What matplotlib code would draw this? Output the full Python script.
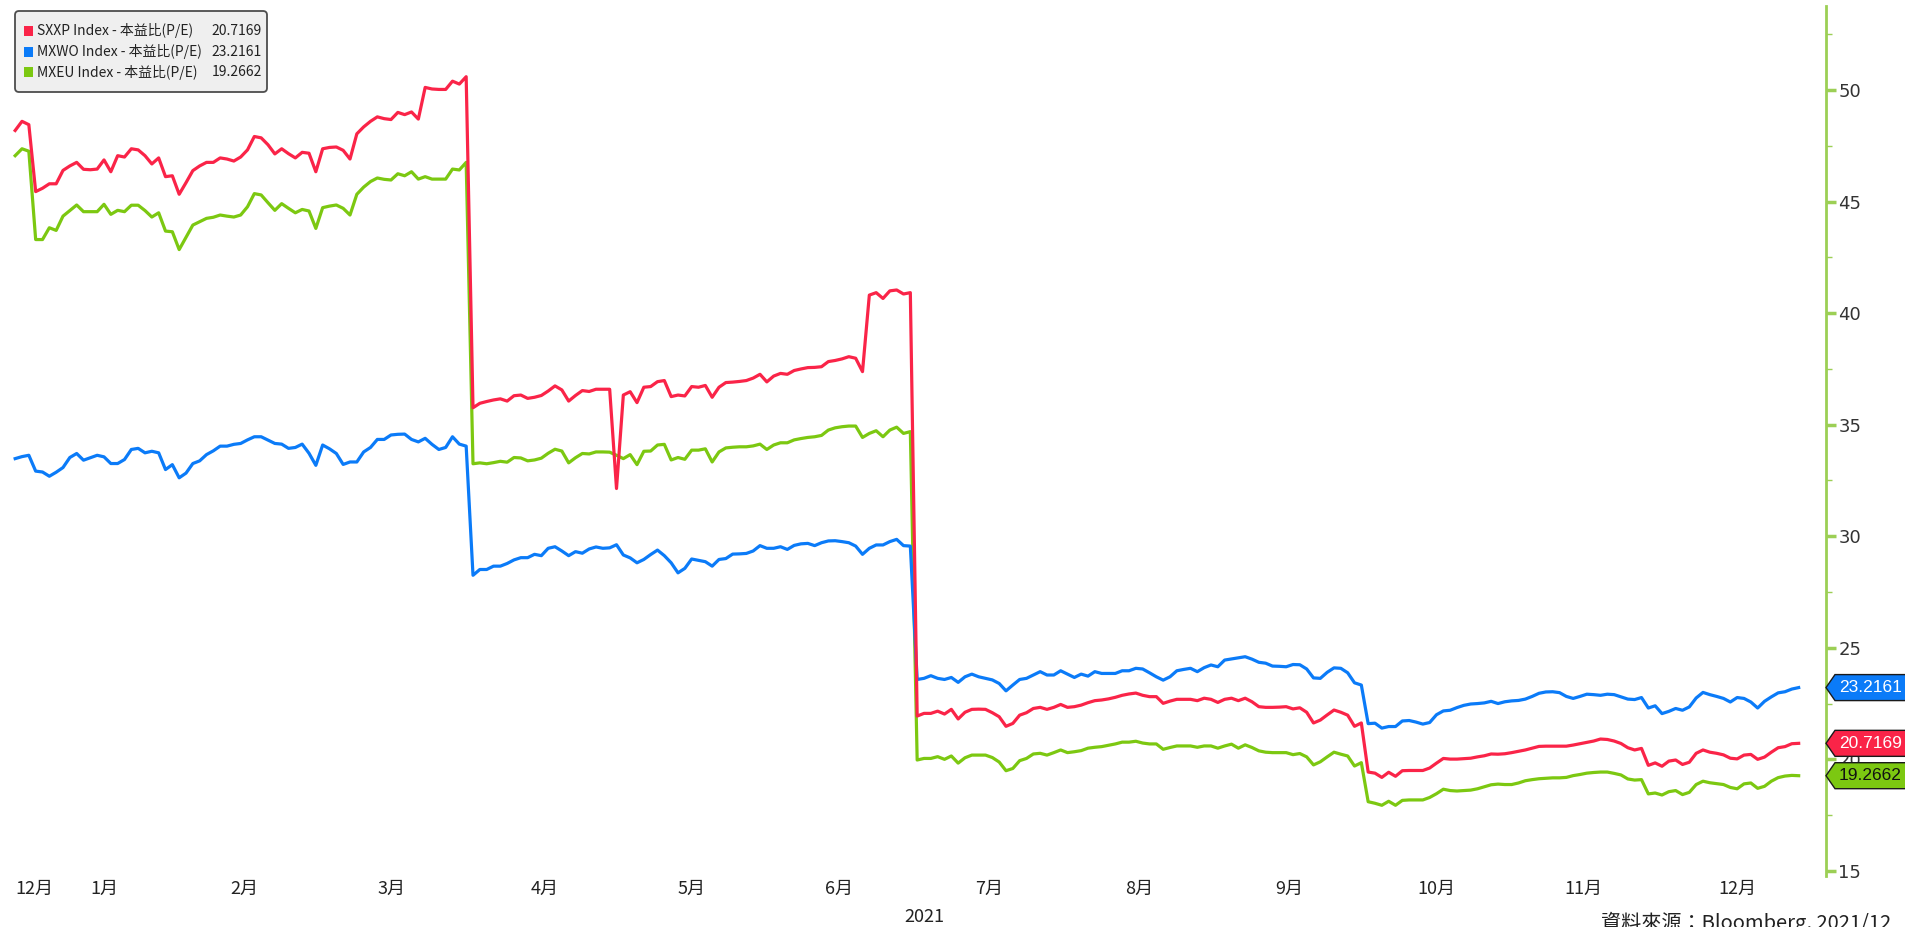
import numpy as np
import pandas as pd
import matplotlib
matplotlib.use('Agg')
import matplotlib.pyplot as plt
from matplotlib.patches import Polygon, FancyBboxPatch
from matplotlib.transforms import IdentityTransform, blended_transform_factory

plt.rcParams['font.family'] = ['DejaVu Sans', 'Noto Sans CJK TC']

# Trading days (weekdays) shown on the chart
dates = pd.bdate_range('2020-12-29', '2021-12-29')

# Forward P/E per trading day, one list per index
sxxp_pe = [
    48.19, 48.6, 48.45,
    45.45, 45.6, 45.8, 45.8, 46.4, 46.6, 46.76, 46.45, 46.43, 46.46, 46.87,
    46.34, 47.06, 47.0, 47.37, 47.32, 47.06, 46.69, 46.96, 46.12, 46.16,
    45.33, 45.85, 46.39, 46.6, 46.76, 46.76, 46.96, 46.91, 46.82, 47.0,
    47.32, 47.92, 47.86, 47.55, 47.14, 47.37, 47.15, 46.96, 47.21, 47.17,
    46.34, 47.37, 47.43, 47.45, 47.3, 46.91, 48.04, 48.35, 48.6, 48.8,
    48.72, 48.68, 49.0, 48.9, 49.02, 48.7, 50.12, 50.05, 50.03, 50.03,
    50.4, 50.27, 50.6,
    35.76, 35.96, 36.04, 36.11, 36.16, 36.06, 36.3, 36.33, 36.18, 36.23,
    36.31, 36.51, 36.74, 36.56, 36.06, 36.31, 36.53, 36.49, 36.59, 36.59,
    36.59, 32.14, 36.33, 36.48, 35.99, 36.68, 36.71, 36.93, 36.98, 36.26,
    36.33, 36.29, 36.71, 36.68, 36.76, 36.23, 36.68, 36.89, 36.91, 36.94,
    36.98, 37.09, 37.26, 36.92, 37.18, 37.3, 37.26, 37.43, 37.5, 37.56,
    37.57, 37.6, 37.83, 37.88, 37.95, 38.05, 37.98, 37.38, 40.81, 40.92,
    40.66, 41.0, 41.04, 40.86, 40.92,
    21.94, 22.06, 22.06, 22.16, 22.03, 22.24, 21.81, 22.11, 22.24, 22.25,
    22.24, 22.09, 21.91, 21.48, 21.61, 21.98, 22.09, 22.28, 22.33, 22.24,
    22.33, 22.46, 22.33, 22.36, 22.43, 22.54, 22.63, 22.66, 22.71, 22.78,
    22.87, 22.93, 22.97, 22.87, 22.81, 22.81, 22.51, 22.61, 22.69, 22.69,
    22.69, 22.63, 22.74, 22.69, 22.55, 22.69, 22.74, 22.63, 22.74, 22.58,
    22.36, 22.33, 22.33, 22.34, 22.36, 22.26, 22.31, 22.11, 21.63, 21.76,
    21.99, 22.21, 22.11, 21.98, 21.48, 21.63,
    19.43, 19.38, 19.19, 19.42, 19.24, 19.49, 19.5, 19.5, 19.5, 19.61,
    19.83, 20.04, 20.01, 20.01, 20.03, 20.05, 20.11, 20.16, 20.24, 20.23,
    20.25, 20.3, 20.36, 20.42, 20.5, 20.58, 20.59, 20.59, 20.59, 20.59,
    20.64, 20.7, 20.76, 20.82, 20.91, 20.89, 20.82, 20.71, 20.52, 20.42,
    20.49, 19.73, 19.84, 19.69, 19.92, 19.97, 19.77, 19.87, 20.27, 20.42,
    20.32, 20.27, 20.2, 20.05, 20.02, 20.19, 20.22, 20.0, 20.1, 20.32,
    20.52, 20.57, 20.7, 20.7169,
]

mxwo_pe = [
    33.48, 33.57, 33.63,
    32.92, 32.88, 32.69, 32.87, 33.08, 33.53, 33.71, 33.41, 33.52, 33.63, 33.56,
    33.26, 33.26, 33.44, 33.89, 33.94, 33.74, 33.81, 33.74, 32.99, 33.21,
    32.62, 32.83, 33.26, 33.38, 33.66, 33.83, 34.04, 34.04, 34.12, 34.16,
    34.32, 34.46, 34.46, 34.31, 34.16, 34.13, 33.94, 33.98, 34.13, 33.72,
    33.18, 34.09, 33.92, 33.71, 33.22, 33.33, 33.33, 33.78, 33.98, 34.34,
    34.34, 34.54, 34.57, 34.58, 34.34, 34.23, 34.39, 34.12, 33.89, 33.98,
    34.46, 34.13, 34.04,
    28.25, 28.51, 28.51, 28.66, 28.66, 28.78, 28.94, 29.04, 29.04, 29.19,
    29.13, 29.46, 29.53, 29.34, 29.13, 29.31, 29.24, 29.43, 29.52, 29.46,
    29.48, 29.62, 29.16, 29.03, 28.81, 28.96, 29.18, 29.38, 29.13, 28.81,
    28.36, 28.56, 28.98, 28.92, 28.86, 28.66, 28.96, 29.0, 29.2, 29.21,
    29.23, 29.34, 29.58, 29.46, 29.46, 29.53, 29.41, 29.59, 29.66, 29.68,
    29.58, 29.71, 29.79, 29.8, 29.76, 29.71, 29.56, 29.19, 29.46, 29.61,
    29.61, 29.76, 29.86, 29.58, 29.56,
    23.58, 23.63, 23.75, 23.63, 23.58, 23.67, 23.45, 23.7, 23.82, 23.7,
    23.63, 23.56, 23.4, 23.07, 23.33, 23.58, 23.63, 23.78, 23.93, 23.78,
    23.78, 23.97, 23.82, 23.67, 23.82, 23.73, 23.93, 23.85, 23.85, 23.85,
    23.97, 23.97, 24.08, 24.05, 23.88, 23.7, 23.55, 23.7, 23.97, 24.03,
    24.08, 23.93, 24.11, 24.23, 24.15, 24.45, 24.5, 24.55, 24.6, 24.49,
    24.35, 24.31, 24.18, 24.17, 24.15, 24.25, 24.24, 24.05, 23.65, 23.63,
    23.9, 24.1, 24.08, 23.88, 23.43, 23.33,
    21.6, 21.62, 21.4, 21.47, 21.47, 21.72, 21.74, 21.67, 21.58, 21.65,
    22.0, 22.17, 22.2, 22.32, 22.42, 22.48, 22.5, 22.53, 22.6, 22.5,
    22.58, 22.62, 22.64, 22.7, 22.82, 22.96, 23.02, 23.03, 22.99, 22.82,
    22.73, 22.82, 22.92, 22.9, 22.87, 22.92, 22.9, 22.8, 22.7, 22.68,
    22.77, 22.3, 22.4, 22.05, 22.15, 22.28, 22.2, 22.35, 22.75, 23.0,
    22.9, 22.82, 22.73, 22.57, 22.77, 22.73, 22.57, 22.3, 22.6, 22.8,
    22.98, 23.03, 23.15, 23.2161,
]

mxeu_pe = [
    47.06, 47.37, 47.26,
    43.3, 43.3, 43.83, 43.71, 44.35, 44.6, 44.85, 44.55, 44.55, 44.55, 44.88,
    44.43, 44.61, 44.55, 44.84, 44.84, 44.6, 44.31, 44.5, 43.68, 43.65,
    42.85, 43.4, 43.95, 44.1, 44.25, 44.3, 44.4, 44.35, 44.31, 44.4,
    44.77, 45.36, 45.3, 44.95, 44.61, 44.91, 44.7, 44.5, 44.65, 44.58,
    43.8, 44.73, 44.8, 44.85, 44.7, 44.4, 45.33, 45.65, 45.9, 46.06,
    46.0, 45.97, 46.25, 46.16, 46.34, 46.01, 46.12, 46.01, 46.01, 46.01,
    46.46, 46.42, 46.76,
    33.25, 33.29, 33.25, 33.3, 33.36, 33.32, 33.53, 33.51, 33.38, 33.42,
    33.5, 33.72, 33.9, 33.82, 33.29, 33.52, 33.71, 33.69, 33.78, 33.78,
    33.77, 33.63, 33.48, 33.66, 33.21, 33.81, 33.82, 34.09, 34.12, 33.42,
    33.53, 33.45, 33.86, 33.86, 33.92, 33.33, 33.78, 33.96, 33.99, 34.01,
    34.01, 34.05, 34.13, 33.89, 34.09, 34.19, 34.19, 34.32, 34.38, 34.43,
    34.46, 34.52, 34.76, 34.86, 34.91, 34.94, 34.94, 34.43, 34.61, 34.73,
    34.46, 34.76, 34.89, 34.61, 34.69,
    19.97, 20.04, 20.04, 20.12, 20.0, 20.15, 19.83, 20.07, 20.19, 20.19,
    20.19, 20.08, 19.88, 19.49, 19.59, 19.94, 20.04, 20.24, 20.27, 20.19,
    20.3, 20.42, 20.3, 20.34, 20.39, 20.5, 20.54, 20.57, 20.63, 20.69,
    20.77, 20.77, 20.81, 20.73, 20.69, 20.69, 20.45, 20.53, 20.6, 20.6,
    20.6, 20.54, 20.6, 20.6, 20.5, 20.6, 20.68, 20.5, 20.65, 20.53,
    20.38, 20.32, 20.3, 20.3, 20.3, 20.21, 20.26, 20.11, 19.75, 19.89,
    20.11, 20.32, 20.23, 20.15, 19.7, 19.85,
    18.1, 18.03, 17.94, 18.12, 17.94, 18.16, 18.18, 18.18, 18.18, 18.29,
    18.46, 18.66, 18.6, 18.58, 18.6, 18.62, 18.68, 18.77, 18.86, 18.89,
    18.87, 18.87, 18.94, 19.04, 19.09, 19.13, 19.15, 19.17, 19.17, 19.19,
    19.27, 19.32, 19.38, 19.41, 19.43, 19.43, 19.37, 19.3, 19.12, 19.07,
    19.09, 18.45, 18.49, 18.4, 18.55, 18.6, 18.42, 18.52, 18.87, 19.02,
    18.95, 18.91, 18.87, 18.74, 18.68, 18.9, 18.94, 18.7, 18.79, 19.02,
    19.18, 19.25, 19.28, 19.2662,
]

series_names = ['SXXP Index', 'MXWO Index', 'MXEU Index']
series_colors = ['#fa2448', '#0b7bf8', '#7cc811']
tag_text_colors = ['white', 'white', '#111111']
metric_label = '本益比(P/E)'
month_labels = ['12月', '1月', '2月', '3月', '4月', '5月', '6月',
                '7月', '8月', '9月', '10月', '11月', '12月']
year_label = '2021'
source_note = '資料來源：Bloomberg, 2021/12'

AXIS_GREEN = '#9ccf55'
NARROW = ['Liberation Sans Narrow', 'Noto Sans CJK TC']
W, H = 1905, 927

fig = plt.figure(figsize=(W / 100, H / 100), dpi=100)
ax = fig.add_axes([0, 51 / H, 1826 / W, 870 / H])

# x = weekday index counted from 2021-01-01 (Bloomberg skips weekends)
day = dates.values.astype('datetime64[D]')
xpos = np.busday_count('2021-01-01', day)

all_series = [sxxp_pe, mxwo_pe, mxeu_pe]
for vals, col, z in zip(all_series, series_colors, [3, 2, 1]):
    ax.plot(xpos, vals, color=col, lw=2.3, zorder=z, solid_joinstyle='round')

ax.set_xlim(-5.22, 262.0)
ax.set_ylim(14.77, 53.77)

for side in ['top', 'left', 'bottom']:
    ax.spines[side].set_visible(False)
ax.spines['right'].set_color(AXIS_GREEN)
ax.spines['right'].set_linewidth(2)

ax.yaxis.tick_right()
ax.set_yticks(np.arange(15, 51, 5))
ax.set_yticks(np.arange(17.5, 53, 5), minor=True)
ax.tick_params(axis='y', which='major', length=7, width=2.5, color=AXIS_GREEN,
               labelsize=13, labelcolor='#333333', pad=2)
ax.tick_params(axis='y', which='minor', length=4, width=1, color=AXIS_GREEN)

# month labels centred on each month's weekdays
month_starts = pd.date_range('2021-01-01', '2022-01-01', freq='MS')
starts = np.busday_count('2021-01-01', month_starts.values.astype('datetime64[D]'))
centers = (starts[:-1] + starts[1:] - 1) / 2
ax.set_xticks([xpos[0]] + list(centers))
ax.set_xticklabels(month_labels, fontsize=13, family=['Noto Sans CJK TC'], color='#222222')
ax.get_xticklabels()[0].set_ha('left')
ax.tick_params(axis='x', length=0, pad=3)

trans = blended_transform_factory(ax.transData, ax.transAxes)
ax.text((starts[0] + starts[-1] - 1) / 2, -0.047, year_label, transform=trans,
        ha='center', va='center', fontsize=13, family=['Noto Sans CJK TC'], color='#222222')

fig.text(1601 / W, 1 - 912 / H, source_note, ha='left', va='top', fontsize=14.5,
         family=['Noto Sans CJK TC'], color='#222222')

# legend box (pixel coords, origin bottom-left)
fig.add_artist(FancyBboxPatch((15, H - 92), 252, 81, boxstyle='round,pad=0,rounding_size=4',
                              transform=IdentityTransform(), fc='#efefef', ec='#4d4d4d', lw=1.3))
for i, (name, vals, col) in enumerate(zip(series_names, all_series, series_colors)):
    yc = H - (31 + 20.5 * i)
    fig.add_artist(plt.Rectangle((24, yc - 5), 9, 10, transform=IdentityTransform(),
                                 fc=col, ec='none'))
    fig.text(37 / W, yc / H, f'{name} - {metric_label}', ha='left', va='center',
             fontsize=10, family=NARROW, color='#222222')
    fig.text(262 / W, yc / H, f'{vals[-1]:.4f}', ha='right', va='center',
             fontsize=10, family=NARROW, color='#222222')

# last-value tags on the right axis
for vals, col, tcol in zip(all_series, series_colors, tag_text_colors):
    yc = ax.transData.transform((0, vals[-1]))[1]
    x0 = 1826
    pts = [(x0, yc), (x0 + 9, yc + 13), (W + 5, yc + 13), (W + 5, yc - 13), (x0 + 9, yc - 13)]
    fig.add_artist(Polygon(pts, closed=True, transform=IdentityTransform(),
                           fc=col, ec='#1a1a1a', lw=1))
    fig.text(1839 / W, yc / H, f'{vals[-1]:.4f}', ha='left', va='center',
             fontsize=12.5, family=['Liberation Sans'], color=tcol)

fig.savefig('out.png', dpi=100)
